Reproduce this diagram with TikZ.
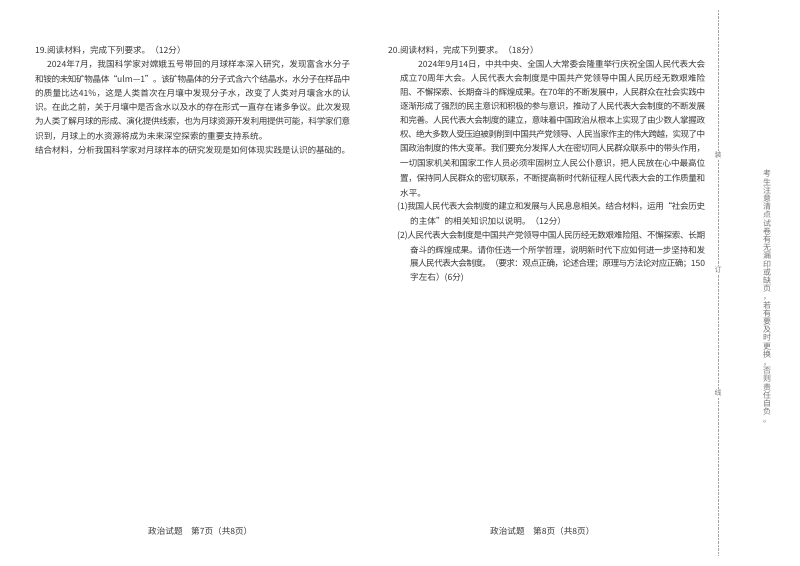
\documentclass[tikz,border=0pt]{standalone}
\usepackage{fontspec}
\setmainfont{Liberation Serif}
\newfontfamily\cjk{Noto Sans CJK SC}
\definecolor{ink}{HTML}{383838}
\def\jl#1#2{\hbox to #1pt{\jlx#2\relax}}
\def\jlx#1{\ifx\relax#1\else#1\expandafter\jly\fi}
\def\jly#1{\ifx\relax#1\else\hskip0pt plus 1fil minus 1fil #1\expandafter\jly\fi}
\begin{document}
\begin{tikzpicture}[x=1pt,y=-1pt,
  t/.style={anchor=west,inner sep=0pt,text=ink,font=\cjk\fontsize{8.6}{10}\selectfont},
  side/.style={inner sep=0pt,text=ink!70,font=\cjk\fontsize{7}{8}\selectfont}]
\useasboundingbox[fill=white] (0,0) rectangle (800,565);
% left column
\node[t] (l0) at (35,50) {19.阅读材料，完成下列要求。（12分）};
\node[t] (l1) at (47,64) {\jl{303}{{2024}年7月，我国科学家对嫦娥五号带回的月球样本深入研究，发现富含水分子}};
\node[t] (l2) at (35,79) {\jl{315}{和铵的未知矿物晶体“{ulm—1}”。该矿物晶体的分子式含六个结晶水，水分子在样品中}};
\node[t] (l3) at (35,93) {\jl{315}{的质量比达{41\%}，这是人类首次在月壤中发现分子水，改变了人类对月壤含水的认}};
\node[t] (l4) at (35,107) {\jl{315}{识。在此之前，关于月壤中是否含水以及水的存在形式一直存在诸多争议。此次发现}};
\node[t] (l5) at (35,121) {\jl{315}{为人类了解月球的形成、演化提供线索，也为月球资源开发利用提供可能，科学家们意}};
\node[t] (l6) at (35,136) {识到，月球上的水资源将成为未来深空探索的重要支持系统。};
\node[t] (l7) at (35,150) {\jl{315}{结合材料，分析我国科学家对月球样本的研究发现是如何体现实践是认识的基础的。}};
% right column
\node[t] (r0) at (388,50) {20.阅读材料，完成下列要求。（18分）};
\node[t] (r1) at (418,64) {\jl{287}{{2024}年9月{14}日，中共中央、全国人大常委会隆重举行庆祝全国人民代表大会}};
\node[t] (r2) at (400,78) {\jl{305}{成立{70}周年大会。人民代表大会制度是中国共产党领导中国人民历经无数艰难险}};
\node[t] (r3) at (400,92) {\jl{305}{阻、不懈探索、长期奋斗的辉煌成果。在{70}年的不断发展中，人民群众在社会实践中}};
\node[t] (r4) at (400,106) {\jl{305}{逐渐形成了强烈的民主意识和积极的参与意识，推动了人民代表大会制度的不断发展}};
\node[t] (r5) at (400,120) {\jl{305}{和完善。人民代表大会制度的建立，意味着中国政治从根本上实现了由少数人掌握政}};
\node[t] (r6) at (400,134) {\jl{305}{权、绝大多数人受压迫被剥削到中国共产党领导、人民当家作主的伟大跨越，实现了中}};
\node[t] (r7) at (400,148) {\jl{305}{国政治制度的伟大变革。我们要充分发挥人大在密切同人民群众联系中的带头作用，}};
\node[t] (r8) at (400,163) {\jl{305}{一切国家机关和国家工作人员必须牢固树立人民公仆意识，把人民放在心中最高位}};
\node[t] (r9) at (400,178) {\jl{305}{置，保持同人民群众的密切联系，不断提高新时代新征程人民代表大会的工作质量和}};
\node[t] (r10) at (400,193) {水平。};
\node[t] (r11) at (397,207) {\jl{308}{{(1)}我国人民代表大会制度的建立和发展与人民息息相关。结合材料，运用“社会历史}};
\node[t] (r12) at (410,221) {的主体”的相关知识加以说明。（12分）};
\node[t] (r13) at (397,236) {\jl{308}{{(2)}人民代表大会制度是中国共产党领导中国人民历经无数艰难险阻、不懈探索、长期}};
\node[t] (r14) at (410,250) {\jl{295}{奋斗的辉煌成果。请你任选一个所学哲理，说明新时代下应如何进一步坚持和发}};
\node[t] (r15) at (410,264) {\jl{295}{展人民代表大会制度。（要求：观点正确，论述合理；原理与方法论对应正确；{150}}};
\node[t] (r16) at (410,278) {字左右）(6分)};
% footers
\node[t] (f1) at (148,531) {政治试题\quad 第7页（共8页）};
\node[t] (f2) at (490,531) {政治试题\quad 第8页（共8页）};
% binding line
\draw[ink!45,densely dotted,line width=0.4pt] (718,10) -- (718,555);
\node[side,fill=white,inner sep=1pt] (z1) at (718,155) {装};
\node[side,fill=white,inner sep=1pt] (z2) at (718,270) {订};
\node[side,fill=white,inner sep=1pt] (z3) at (718,393) {线};
\node[side,anchor=north,align=center,font=\cjk\fontsize{8}{8.2}\selectfont] (note) at (767,170)
 {考\\生\\注\\意\\清\\点\\试\\卷\\有\\无\\漏\\印\\或\\缺\\页\\，\\若\\有\\要\\及\\时\\更\\换\\，\\否\\则\\责\\任\\自\\负\\。};
\end{tikzpicture}
\end{document}
